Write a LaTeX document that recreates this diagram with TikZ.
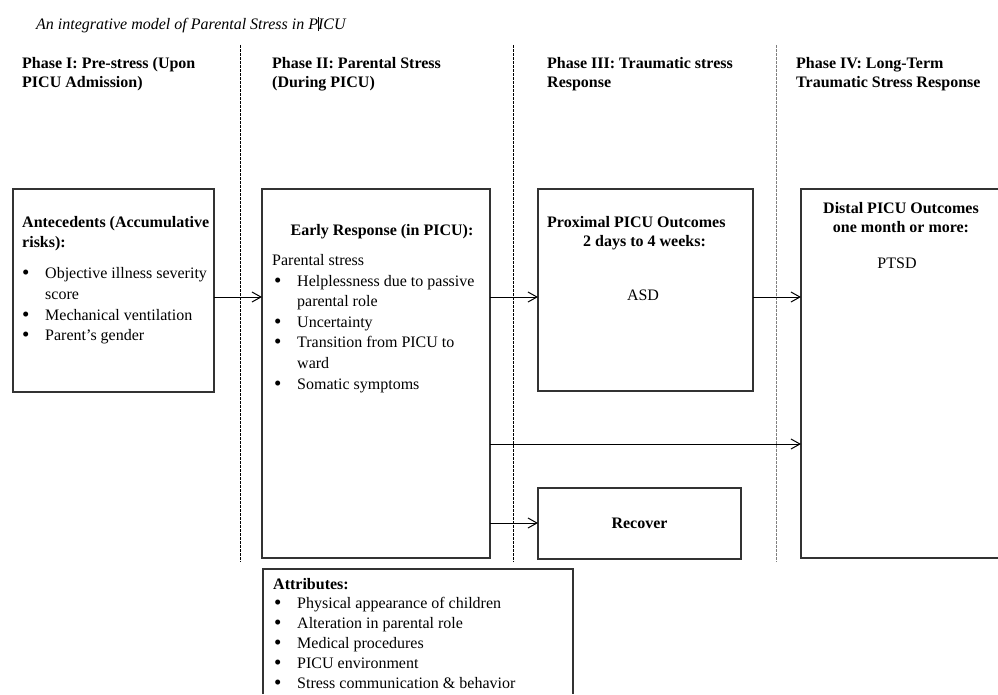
\documentclass[tikz,border=0pt]{standalone}
\usepackage{fontspec}
\setmainfont{Liberation Serif}
\usetikzlibrary{arrows.meta}
\newcommand\bul{\makebox[23pt][l]{\raisebox{-1.3pt}{\fontsize{21}{21}\selectfont\textbullet}}}
\begin{document}
\begin{tikzpicture}[x=1pt,y=-1pt,
  box/.style={draw=black!80, line width=1.3pt, inner sep=0pt, outer sep=0pt, anchor=north west},
  frame/.style={draw=black!80, line width=1.3pt},
  sepline/.style={line width=1pt, dash pattern=on 2.5pt off 1.5pt},
  arr/.style={line width=1pt, -{Straight Barb[length=9pt,width=10pt]}},
  txt/.style={inner sep=0pt, anchor=base west, font=\fontsize{16}{19}\selectfont},
  btxt/.style={txt, font=\fontsize{16}{19}\selectfont\bfseries},
  ctxt/.style={txt, anchor=base},
  bctxt/.style={btxt, anchor=base},
]
\useasboundingbox (0,0) rectangle (998,694);

% title
\node[txt, font=\fontsize{16}{19}\selectfont\itshape] (title) at (36,29)
  {An integrative model of Parental Stress in P\rlap{\kern-0.3pt\rule[-2pt]{0.7pt}{14pt}}ICU};

% phase headings
\node[btxt] (p1a) at (22,68) {Phase I: Pre-stress (Upon};
\node[btxt] (p1b) at (22,87) {PICU Admission)};
\node[btxt] (p2a) at (272,68) {Phase II: Parental Stress};
\node[btxt] (p2b) at (272,87) {(During PICU)};
\node[btxt] (p3a) at (547,68) {Phase III: Traumatic stress};
\node[btxt] (p3b) at (547,87) {Response};
\node[btxt] (p4a) at (796,68) {Phase IV: Long-Term};
\node[btxt] (p4b) at (796,87) {Traumatic Stress Response};

% phase separators
\draw[sepline] (240,45) -- (240,562);
\draw[sepline] (513,45) -- (513,562);
\draw[sepline, black!50] (776,45) -- (776,562);

% boxes
\node[box, minimum width=201pt, minimum height=203pt] (ante) at (13,189) {};
\node[box, minimum width=228pt, minimum height=369pt] (early) at (262,189) {};
\node[box, minimum width=215pt, minimum height=202pt] (prox) at (538,189) {};
\node[box, draw=none, minimum width=197pt, minimum height=369pt] (distal) at (801,189) {};
\draw[frame] (distal.north east) -- (distal.north west) -- (distal.south west) -- (distal.south east);
\node[box, minimum width=203pt, minimum height=71pt, font=\fontsize{16}{19}\selectfont\bfseries] (recover) at (538,488) {Recover};
\node[box, draw=none, minimum width=310pt, minimum height=125pt] (attr) at (263,569) {};
\draw[frame] (attr.south west) -- (attr.north west) -- (attr.north east) -- (attr.south east);

% antecedents
\node[btxt] (a1) at (22,227) {Antecedents (Accumulative};
\node[btxt] (a2) at (22,247) {risks):};
\node[txt] (a3) at (22,278) {\bul Objective illness severity};
\node[txt] (a4) at (45,299) {score};
\node[txt] (a5) at (22,320) {\bul Mechanical ventilation};
\node[txt] (a6) at (22,340) {\bul Parent’s gender};

% early response
\node[bctxt] (e1) at (382,235) {Early Response (in PICU):};
\node[txt] (e2) at (272,265) {Parental stress};
\node[txt] (e3) at (274,286) {\bul Helplessness\ due to passive};
\node[txt] (e4) at (297,306) {parental role};
\node[txt] (e5) at (274,327) {\bul Uncertainty};
\node[txt] (e6) at (274,347) {\bul Transition\ from PICU to};
\node[txt] (e7) at (297,368) {ward};
\node[txt] (e8) at (274,389) {\bul Somatic symptoms};

% proximal outcomes
\node[btxt] (x1) at (547,227) {Proximal PICU Outcomes};
\node[btxt] (x2) at (583,246) {2 days to 4 weeks:};
\node[ctxt] (x3) at (643,300) {ASD};

% distal outcomes
\node[bctxt] (d1) at (901,213) {Distal PICU Outcomes};
\node[bctxt] (d2) at (901,232) {one month or more:};
\node[ctxt] (d3) at (897,268) {PTSD};

% attributes
\node[btxt] (t1) at (273,589) {Attributes:};
\node[txt] (t2) at (274,608) {\bul Physical appearance of children};
\node[txt] (t3) at (274,628) {\bul Alteration in parental role};
\node[txt] (t4) at (274,648) {\bul Medical procedures};
\node[txt] (t5) at (274,668) {\bul PICU environment};
\node[txt] (t6) at (274,688) {\bul Stress communication \& behavior};

% connectors
\coordinate (ya) at (0,297);
\coordinate (yb) at (0,444);
\coordinate (yc) at (0,523);
\draw[arr] (ante.east |- ya) -- (early.west |- ya);
\draw[arr] (early.east |- ya) -- (prox.west |- ya);
\draw[arr] (prox.east |- ya) -- (distal.west |- ya);
\draw[arr] (early.east |- yb) -- (distal.west |- yb);
\draw[arr] (early.east |- yc) -- (recover.west |- yc);
\end{tikzpicture}
\end{document}
